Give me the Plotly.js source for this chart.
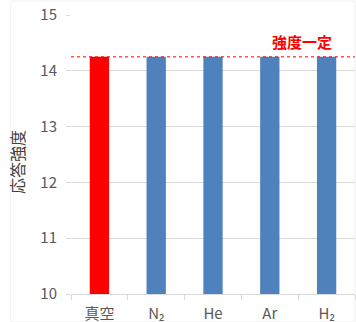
<!DOCTYPE html>
<html><head><meta charset="utf-8">
<script src="https://cdn.plot.ly/plotly-3.0.1.min.js"></script>
<style>html,body{margin:0;padding:0;background:#fff}</style>
</head><body><div id="chart" style="width:356px;height:322px"></div>
<script>
const categories = ["真空", "N₂", "He", "Ar", "H₂"];
const values = [14.25, 14.25, 14.25, 14.25, 14.25];
const barColors = ["#ff0000", "#4f81bd", "#4f81bd", "#4f81bd", "#4f81bd"];
const refLevel = 14.25;
const refLabel = "強度一定";
const yTitle = "応答強度";
const yTicks = [10, 11, 12, 13, 14, 15];

const font = "'Noto Sans CJK JP', 'Noto Sans', sans-serif";
Plotly.newPlot("chart", [{
  type: "bar", x: categories, y: values,
  marker: {color: barColors},
  width: 0.34, hoverinfo: "skip"
}], {
  width: 356, height: 322,
  margin: {l: 71, r: 1, t: 15, b: 28},
  paper_bgcolor: "#fff", plot_bgcolor: "#fff",
  showlegend: false,
  font: {family: font, color: "#595959", size: 14},
  xaxis: {
    type: "category", tickson: "boundaries", ticks: "outside", ticklen: 5,
    tickcolor: "#d9d9d9", showgrid: false, showline: true, linecolor: "#d9d9d9",
    tickfont: {size: 15, color: "#595959"}, ticklabelstandoff: 6, fixedrange: true
  },
  yaxis: {
    range: [10, 15], tickvals: yTicks, ticks: "outside", ticklen: 4,
    tickcolor: "#d9d9d9", gridcolor: "#d9d9d9", showline: false, zeroline: false,
    tickfont: {size: 15, color: "#595959"}, ticklabelstandoff: 6,
    fixedrange: true
  },
  shapes: [
    {type: "line", xref: "paper", x0: 0, x1: 1, yref: "y", y0: refLevel, y1: refLevel,
     line: {color: "#ff0000", width: 1, dash: "dot"}},
    {type: "rect", xref: "paper", yref: "paper", x0: -0.212, x1: 1.0, y0: -0.1, y1: 1.05,
     line: {color: "#f0f0f0", width: 1}, layer: "below"}
  ],
  annotations: [{
    xref: "paper", yref: "y", x: 0.815, y: 14.52, text: "<b>" + refLabel + "</b>",
    showarrow: false, font: {size: 15, color: "#ff0000", family: font},
    xanchor: "center", yanchor: "middle"
  }, {
    xref: "paper", yref: "paper", x: -0.19, y: 0.473, text: yTitle, textangle: -90,
    showarrow: false, font: {size: 16, color: "#404040", family: font},
    xanchor: "center", yanchor: "middle"
  }]
}, {displayModeBar: false, staticPlot: true});
</script></body></html>
